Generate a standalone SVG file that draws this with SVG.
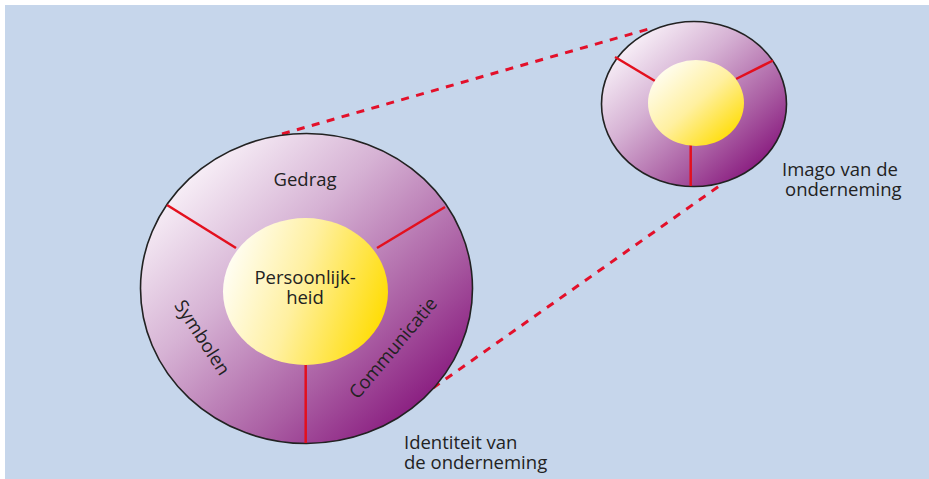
<svg xmlns="http://www.w3.org/2000/svg" width="929" height="479" viewBox="0 0 929 479">
<defs>
<linearGradient id="gOuter" x1="0.12" y1="0.1" x2="0.92" y2="0.9">
<stop offset="0" stop-color="#fbf6fb"/>
<stop offset="0.35" stop-color="#d6b2d4"/>
<stop offset="0.7" stop-color="#aa5ea3"/>
<stop offset="1" stop-color="#820e78"/>
</linearGradient>
<linearGradient id="gInner" x1="0" y1="0.35" x2="1" y2="0.65">
<stop offset="0" stop-color="#fffef6"/>
<stop offset="0.45" stop-color="#fff0a0"/>
<stop offset="1" stop-color="#ffdc00"/>
</linearGradient>
<linearGradient id="gInnerS" x1="0.1" y1="0.1" x2="0.9" y2="0.9">
<stop offset="0" stop-color="#fffef6"/>
<stop offset="0.5" stop-color="#fff0a0"/>
<stop offset="1" stop-color="#ffdc00"/>
</linearGradient>
</defs>
<style>
.outer{fill:url(#gOuter);stroke:#222;stroke-width:1.6}
.div{stroke:#e3101e;stroke-width:2.5;fill:none}
.dash{stroke:#e3102a;stroke-width:3;stroke-dasharray:8 7.5;fill:none}
.t{font-family:"Open Sans","Noto Sans",sans-serif;font-size:18.5px;fill:#222}
.m{text-anchor:middle}
</style>
<rect x="5" y="5" width="924" height="474" fill="#c6d6eb"/>
<g id="connectors">
<line class="dash" x1="282" y1="134" x2="650" y2="28.6"/>
<line class="dash" x1="433" y1="388" x2="722" y2="184"/>
</g>
<g id="identiteit">
<ellipse class="outer" cx="306.5" cy="288.5" rx="166" ry="155"/>
<line class="div" x1="167" y1="205" x2="236" y2="248"/>
<line class="div" x1="445" y1="207" x2="377" y2="248"/>
<line class="div" x1="305.7" y1="364" x2="305.7" y2="443"/>
<ellipse cx="305.5" cy="291.5" rx="82.5" ry="73.5" fill="url(#gInner)"/>
<text class="t m" x="305" y="186">Gedrag</text>
<text class="t m" x="305" y="284">Persoonlijk-</text>
<text class="t m" x="305" y="304">heid</text>
<text class="t m" transform="translate(197,341) rotate(57)">Symbolen</text>
<text class="t m" transform="translate(398,352) rotate(-50)">Communicatie</text>
</g>
<g id="imago">
<ellipse class="outer" cx="694" cy="104" rx="92.5" ry="82.5"/>
<line class="div" x1="615" y1="57" x2="655" y2="81"/>
<line class="div" x1="773" y1="60.5" x2="736" y2="79"/>
<line class="div" x1="690.7" y1="145" x2="690.7" y2="186"/>
<ellipse cx="696" cy="103" rx="48" ry="43" fill="url(#gInnerS)"/>
</g>
<g id="label-identiteit">
<text class="t" x="404" y="449">Identiteit van</text>
<text class="t" x="404" y="469">de onderneming</text>
</g>
<g id="label-imago">
<text class="t" x="782" y="176">Imago van de</text>
<text class="t" x="785" y="196">onderneming</text>
</g>
</svg>
